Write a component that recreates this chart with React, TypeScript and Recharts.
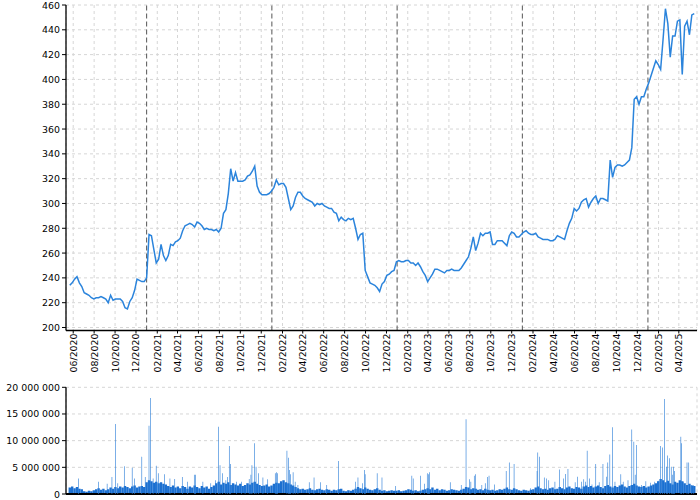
import React from 'react';
import { LineChart, Line, XAxis, YAxis, CartesianGrid, ReferenceLine, BarChart, Bar } from 'recharts';

const FONT = '"DejaVu Sans", Verdana, sans-serif';
const FS = 9.4;

// x-axis calendar
const DOMAIN_START = '2020-05-11';
const DOMAIN_END = '2025-05-24';
const FIRST_WEEK = '2020-05-22'; // weekly closes, one per week from this date

const monthTicks = [
  '2020-06-01', '2020-08-01', '2020-10-01', '2020-12-01',
  '2021-02-01', '2021-04-01', '2021-06-01', '2021-08-01', '2021-10-01', '2021-12-01',
  '2022-02-01', '2022-04-01', '2022-06-01', '2022-08-01', '2022-10-01', '2022-12-01',
  '2023-02-01', '2023-04-01', '2023-06-01', '2023-08-01', '2023-10-01', '2023-12-01',
  '2024-02-01', '2024-04-01', '2024-06-01', '2024-08-01', '2024-10-01', '2024-12-01',
  '2025-02-01', '2025-04-01',
];
const yearLines = ['2021-01-01', '2022-01-01', '2023-01-01', '2024-01-01', '2025-01-01'];
const priceTicks = [200, 220, 240, 260, 280, 300, 320, 340, 360, 380, 400, 420, 440, 460];
const volumeTicks = [0, 5000000, 10000000, 15000000, 20000000];

// weekly closing prices
const closes = [
  234, 236, 239, 241, 236, 233, 228, 227, 226, 224,
  223, 224, 224, 225, 224, 223, 220, 226, 222, 223,
  223, 223, 221, 216, 215, 221, 224, 230, 239, 238,
  237, 237, 240, 275, 274, 263, 252, 255, 267, 258,
  254, 258, 267, 266, 269, 270, 272, 278, 282, 283,
  284, 283, 281, 285, 284, 282, 279, 280, 279, 279,
  278, 279, 277, 280, 292, 295, 308, 328, 318, 325,
  318, 318, 318, 319, 322, 323, 326, 330, 314, 309,
  307, 307, 307, 308, 310, 313, 319, 315, 316, 316,
  313, 304, 295, 298, 305, 309, 309, 306, 304, 303,
  302, 301, 298, 300, 299, 300, 298, 297, 296, 296,
  293, 292, 286, 289, 287, 286, 288, 287, 288, 280,
  271, 275, 276, 246, 241, 236, 235, 234, 232, 229,
  235, 237, 242, 243, 245, 246, 253, 254, 253, 253,
  254, 254, 252, 252, 250, 252, 249, 245, 242, 237,
  240, 243, 247, 247, 246, 245, 244, 246, 246, 247,
  246, 246, 246, 248, 251, 254, 257, 264, 273, 262,
  268, 276, 274, 276, 276, 277, 267, 267, 270, 270,
  270, 268, 266, 274, 277, 276, 273, 273, 275, 277,
  278, 276, 275, 275, 276, 273, 272, 271, 271, 271,
  270, 270, 271, 274, 273, 272, 271, 278, 284, 288,
  296, 294, 296, 301, 303, 304, 297, 301, 304, 306,
  300, 304, 304, 303, 302, 335, 321, 329, 331, 331,
  330, 331, 333, 335, 345, 384, 386, 380, 386, 386,
  392, 397, 403, 409, 415, 412, 408, 432, 457, 445,
  418, 435, 435, 447, 448, 404, 443, 447, 436, 452,
  453,
];

// weekly typical traded volume (millions)
const volBase = [
  1.2, 1.4, 1.1, 1.3, 1.0, 0.9,
  0.5, 0.4, 0.6, 0.5, 0.7,
  0.9, 1.1, 0.8, 1.0, 0.7, 0.9, 1.2, 1.0,
  1.3, 1.1, 1.4, 1.2, 1.5, 1.3, 1.1, 1.4, 1.6, 1.2, 1.4, 1.5, 1.3,
  2.2, 2.6, 2.4, 2.1, 2.3, 2.0, 2.2, 1.9, 1.8,
  1.5, 1.3, 1.6, 1.2, 1.4, 1.1, 1.5, 1.3, 1.0, 1.4, 1.2, 1.6, 1.3, 1.1, 1.5, 1.2, 1.4, 1.0, 1.3, 1.6,
  2.0, 2.3, 1.8, 2.1, 1.9, 2.2, 1.7, 2.0, 1.8, 1.6, 1.9, 1.5, 1.7, 2.0, 1.8, 2.1, 2.3, 1.9, 1.7, 1.5, 1.6, 1.8, 1.4, 1.6, 1.9, 2.1, 2.0,
  2.4, 2.6, 2.2, 2.0, 1.8, 1.6, 1.3, 1.1,
  0.9, 1.0, 0.8, 0.9, 1.1, 0.8, 0.7, 0.9, 1.0, 0.8, 0.7, 0.9, 0.8, 0.6, 0.8, 0.7, 0.9, 1.0,
  0.6, 0.5, 0.7, 0.6, 0.8, 1.0, 1.3, 1.1, 0.9, 1.2, 1.0, 0.8, 0.7, 0.9, 1.1, 0.8, 0.6, 0.7, 0.5, 0.6, 0.7, 0.6,
  0.6, 0.7, 0.5, 0.6, 0.7, 0.9, 0.8, 0.6, 0.7, 0.5, 0.6, 0.8, 0.9,
  1.1, 0.9, 1.2, 0.8, 1.0, 0.7, 0.9, 0.8, 0.6, 0.7, 0.9, 0.8, 0.7, 0.6, 0.8, 1.0, 1.3, 1.2, 0.9, 1.1, 1.0, 0.8, 0.9, 0.7, 1.0, 0.8,
  0.7, 0.8, 0.6, 0.7, 0.9, 0.8, 1.0, 1.2, 0.9, 0.8, 1.1, 0.9,
  0.7, 0.6, 0.8, 0.7, 0.6, 0.8, 0.9,
  1.2, 1.4, 1.1, 0.9, 1.0, 0.8, 1.1, 1.2, 0.9, 1.0, 1.3, 1.1, 0.9, 1.2, 1.4, 1.1, 1.0, 1.3, 1.2, 1.0, 1.4, 1.6,
  1.3, 1.5, 1.2, 1.4, 1.6, 1.3, 1.1, 1.5, 1.7, 1.4, 1.2, 1.5, 1.3, 1.6, 1.8, 1.4, 1.2, 1.5, 1.7, 1.9, 1.6, 1.4, 1.3, 1.5, 1.2, 1.4, 1.6, 1.8,
  2.0, 2.4, 2.8, 2.6, 2.2, 2.5, 2.0, 1.8, 2.3, 2.1, 2.6, 2.4, 2.0, 1.7, 1.9, 1.6, 1.5,
];

// high-volume sessions
const spikeDates = [
  '2020-06-16', '2020-08-14', '2020-09-08', '2020-09-22', '2020-10-02', '2020-10-09', '2020-10-28', '2020-11-20', '2020-11-27', '2020-12-18',
  '2020-12-28', '2021-01-08', '2021-01-12', '2021-01-20', '2021-01-29', '2021-02-04', '2021-02-22', '2021-03-10', '2021-03-24', '2021-04-15',
  '2021-04-30', '2021-05-20', '2021-05-24', '2021-06-14', '2021-07-07', '2021-07-21', '2021-07-29', '2021-08-03', '2021-08-10', '2021-08-20',
  '2021-08-25', '2021-08-30', '2021-09-03', '2021-09-20', '2021-10-05', '2021-10-15', '2021-10-27', '2021-11-01', '2021-11-04', '2021-11-12',
  '2021-11-16', '2021-11-23', '2021-12-06', '2021-12-20', '2022-01-11', '2022-01-14', '2022-01-18', '2022-02-14', '2022-02-18', '2022-02-22',
  '2022-02-24', '2022-03-04', '2022-03-10', '2022-03-18', '2022-04-20', '2022-05-04', '2022-05-23', '2022-06-10', '2022-07-14', '2022-09-02',
  '2022-09-09', '2022-09-22', '2022-09-28', '2022-09-30', '2022-11-04', '2022-11-18', '2022-12-28', '2023-02-13', '2023-02-17', '2023-03-10',
  '2023-03-22', '2023-03-30', '2023-04-03', '2023-04-06', '2023-06-05', '2023-07-07', '2023-07-21', '2023-07-31', '2023-08-04', '2023-08-14',
  '2023-08-18', '2023-09-05', '2023-09-15', '2023-09-22', '2023-09-26', '2023-10-12', '2023-11-15', '2023-11-24', '2023-12-08', '2024-01-25',
  '2024-02-13', '2024-02-15', '2024-02-20', '2024-03-05', '2024-03-12', '2024-03-18', '2024-04-05', '2024-04-18', '2024-04-30', '2024-05-06',
  '2024-05-13', '2024-06-03', '2024-06-10', '2024-06-21', '2024-06-28', '2024-07-03', '2024-07-08', '2024-07-15', '2024-07-22', '2024-08-02',
  '2024-08-12', '2024-08-23', '2024-09-03', '2024-09-06', '2024-09-12', '2024-09-20', '2024-09-27', '2024-10-14', '2024-10-21', '2024-11-04',
  '2024-11-15', '2024-11-21', '2024-11-25', '2024-11-29', '2024-12-13', '2024-12-26', '2025-01-09', '2025-01-21', '2025-01-31', '2025-02-07',
  '2025-02-13', '2025-02-18', '2025-02-24', '2025-02-27', '2025-03-05', '2025-03-10', '2025-03-13', '2025-03-17', '2025-03-20', '2025-04-07',
  '2025-04-09', '2025-04-14', '2025-04-25', '2025-04-30', '2025-05-08', '2025-05-13',
];
const spikeVolumes = [
  2.9, 2.3, 1.9, 3.2, 13.1, 2.0, 5.2, 4.9, 2.9, 7.0,
  3.2, 12.8, 18.0, 2.9, 5.3, 3.9, 3.7, 2.9, 2.8, 3.2,
  2.3, 3.6, 3.6, 2.3, 2.0, 2.6, 12.6, 5.4, 3.9, 2.6,
  3.2, 9.0, 5.6, 2.3, 2.3, 1.7, 2.8, 3.6, 5.4, 9.5,
  5.1, 3.9, 3.1, 2.75, 3.9, 4.1, 3.9, 8.1, 6.8, 4.5,
  3.7, 4.1, 2.3, 1.7, 2.2, 3.1, 2.2, 1.7, 6.2, 2.3,
  3.1, 2.0, 4.5, 3.7, 3.9, 3.1, 1.5, 3.4, 2.9, 3.4,
  1.9, 3.9, 3.7, 4.1, 2.2, 1.7, 14.0, 2.75, 2.3, 3.4,
  3.7, 1.7, 2.0, 3.2, 3.4, 1.8, 4.3, 5.9, 5.6, 1.1,
  4.3, 7.8, 7.0, 3.1, 2.9, 2.6, 2.3, 4.6, 2.9, 3.75,
  4.7, 2.2, 3.25, 2.3, 2.75, 2.3, 8.1, 2.9, 1.8, 5.6,
  2.2, 5.6, 3.25, 5.9, 7.4, 12.5, 2.3, 3.7, 2.3, 2.6,
  12.1, 9.8, 3.6, 9.2, 1.7, 2.4, 2.1, 2.3, 2.5, 9.0,
  8.7, 17.8, 5.1, 7.2, 6.7, 5.1, 3.6, 5.1, 4.3, 10.75,
  9.5, 2.3, 5.9, 5.9, 1.7, 1.7,
];

const DAY = 86400000;
const ts = (s: string) => new Date(s + 'T00:00:00Z').getTime();
const t0 = ts(DOMAIN_START);
const t1 = ts(DOMAIN_END);
const w0 = ts(FIRST_WEEK);
const monthTickTs = monthTicks.map(ts);

const priceData = closes.map((c, i) => ({ t: w0 + i * 7 * DAY, close: c }));
const baseData = volBase.map((v, i) => ({ t: w0 + i * 7 * DAY, v: v * 1000000 }));
const spikeData = spikeDates.map((d, i) => ({ t: ts(d), v: spikeVolumes[i] * 1000000 }));

const fmtMonth = (t: number) => {
  const d = new Date(t);
  const m = d.getUTCMonth() + 1;
  return (m < 10 ? '0' : '') + m + '/' + d.getUTCFullYear();
};
const fmtVol = (v: number) => String(Math.round(v)).replace(/\B(?=(\d{3})+(?!\d))/g, '\u00A0');

const XTick = (props: any) => {
  const { x, y, payload } = props;
  return (
    <text
      x={x}
      y={y}
      transform={`rotate(-90 ${x} ${y})`}
      textAnchor="end"
      dominantBaseline="central"
      fontSize={FS}
      fontFamily={FONT}
      fill="#000"
    >
      {fmtMonth(payload.value)}
    </text>
  );
};

const YTick = (props: any) => {
  const { x, y, payload, formatter } = props;
  const label = formatter ? formatter(payload.value) : String(payload.value);
  return (
    <text
      x={x}
      y={y}
      textAnchor="end"
      dominantBaseline="central"
      fontSize={FS}
      fontFamily={FONT}
      fill="#000"
    >
      {label}
    </text>
  );
};

export default function App() {
  return (
    <div style={{ position: 'absolute', left: 0, top: 0, width: 700, height: 500, background: '#fff' }}>
      <div style={{ position: 'absolute', left: 0, top: 0 }}>
        <LineChart width={700} height={380} data={priceData} margin={{ top: 5, right: 3, left: 0, bottom: 0 }}>
          <CartesianGrid strokeDasharray="3 3" stroke="#d6d6d6" />
          <XAxis
            type="number"
            dataKey="t"
            domain={[t0, t1]}
            ticks={monthTickTs}
            interval={0}
            allowDataOverflow
            height={49.5}
            tick={<XTick />}
            tickSize={3}
            tickMargin={0}
            stroke="#000"
            axisLine={{ stroke: '#000', strokeWidth: 1.3 }}
            tickLine={{ stroke: '#000' }}
          />
          <YAxis
            domain={[197.58, 460]}
            ticks={priceTicks}
            interval={0}
            allowDataOverflow
            width={66}
            tick={<YTick />}
            tickSize={4}
            tickMargin={2}
            stroke="#000"
            axisLine={{ stroke: '#000', strokeWidth: 1.3 }}
            tickLine={{ stroke: '#000' }}
          />
          {yearLines.map((d) => (
            <ReferenceLine key={d} x={ts(d)} stroke="#555" strokeDasharray="5 3" strokeWidth={1} />
          ))}
          <Line
            type="linear"
            dataKey="close"
            stroke="#2b84dc"
            strokeWidth={1.5}
            dot={false}
            isAnimationActive={false}
          />
        </LineChart>
      </div>
      <div style={{ position: 'absolute', left: 0, top: 380 }}>
        <BarChart width={700} height={120} data={baseData} margin={{ top: 7.3, right: 3, left: 0, bottom: 0 }}>
          <CartesianGrid strokeDasharray="3 3" stroke="#d6d6d6" />
          <XAxis
            type="number"
            dataKey="t"
            domain={[t0, t1]}
            ticks={monthTickTs}
            interval={0}
            allowDataOverflow
            height={6}
            tick={false}
            tickLine={false}
            axisLine={{ stroke: '#000', strokeWidth: 2 }}
          />
          <YAxis
            domain={[0, 20000000]}
            ticks={volumeTicks}
            interval={0}
            allowDataOverflow
            width={66}
            tick={<YTick formatter={fmtVol} />}
            tickSize={4}
            tickMargin={2}
            stroke="#000"
            axisLine={{ stroke: '#000', strokeWidth: 1.3 }}
            tickLine={{ stroke: '#000' }}
          />
          <Bar dataKey="v" fill="#1b6fd0" barSize={2.4} isAnimationActive={false} />
        </BarChart>
      </div>
      <div style={{ position: 'absolute', left: 0, top: 380 }}>
        <BarChart width={700} height={120} data={spikeData} margin={{ top: 7.3, right: 3, left: 66, bottom: 6 }}>
          <XAxis hide type="number" dataKey="t" domain={[t0, t1]} allowDataOverflow />
          <YAxis hide domain={[0, 20000000]} allowDataOverflow />
          <Bar dataKey="v" fill="#2a7dd8" barSize={1.3} isAnimationActive={false} />
        </BarChart>
      </div>
    </div>
  );
}
